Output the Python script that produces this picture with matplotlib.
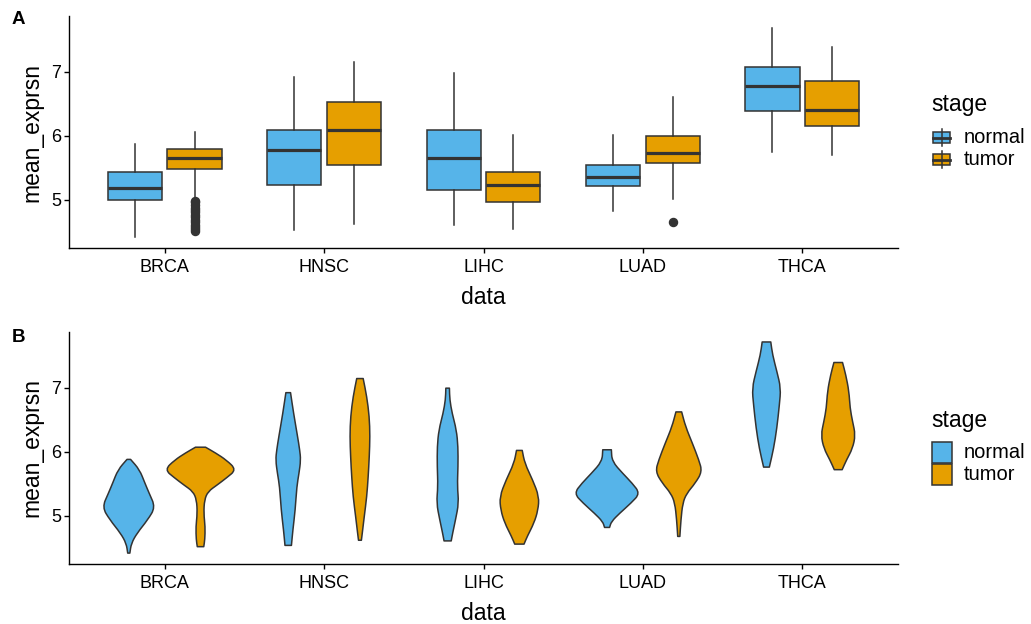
import matplotlib
matplotlib.use("Agg")
import matplotlib.pyplot as plt
from matplotlib.patches import Rectangle, PathPatch
from matplotlib.path import Path
from matplotlib.lines import Line2D
import numpy as np

plt.rcParams['font.family'] = ['Liberation Sans', 'DejaVu Sans']

# ---------------- data ----------------
categories = ["BRCA", "HNSC", "LIHC", "LUAD", "THCA"]
stages = ["normal", "tumor"]
stage_colors = {"normal": "#56B4E9", "tumor": "#E69F00"}

# Boxplot statistics (panel A)
normal_whislo = [4.42, 4.53, 4.61, 4.82, 5.75]
normal_q1 = [5.00, 5.24, 5.16, 5.22, 6.39]
normal_med = [5.18, 5.78, 5.66, 5.36, 6.78]
normal_q3 = [5.43, 6.09, 6.09, 5.55, 7.08]
normal_whishi = [5.87, 6.92, 6.98, 6.02, 7.69]
normal_outliers = [[], [], [], [], []]

tumor_whislo = [5.02, 4.62, 4.54, 5.01, 5.70]
tumor_q1 = [5.48, 5.55, 4.97, 5.57, 6.16]
tumor_med = [5.66, 6.09, 5.23, 5.73, 6.41]
tumor_q3 = [5.79, 6.53, 5.44, 5.99, 6.85]
tumor_whishi = [6.06, 7.15, 6.02, 6.61, 7.39]
tumor_outliers = [[4.99, 4.96, 4.92, 4.88, 4.85, 4.81, 4.77, 4.73, 4.68, 4.65,
                   4.61, 4.58, 4.55, 4.52], [], [], [4.66], []]

# Violin density profiles (panel B): levels and relative widths (1 = widest)
normal_violin_levels = [
    [4.42, 4.57, 4.73, 4.94, 5.135, 5.35, 5.51, 5.72, 5.88],
    [4.54, 4.78, 5.09, 5.46, 5.66, 5.87, 6.03, 6.24, 6.60, 6.92],
    [4.61, 4.73, 4.94, 5.20, 5.46, 5.77, 6.08, 6.34, 6.60, 6.81, 6.99],
    [4.82, 4.91, 5.04, 5.20, 5.35, 5.51, 5.66, 5.85, 6.03],
    [5.76, 6.05, 6.37, 6.73, 6.99, 7.25, 7.51, 7.71],
]
normal_violin_widths = [
    [0.03, 0.07, 0.23, 0.53, 0.74, 0.57, 0.45, 0.30, 0.05],
    [0.09, 0.13, 0.195, 0.24, 0.30, 0.35, 0.32, 0.26, 0.15, 0.065],
    [0.10, 0.14, 0.22, 0.31, 0.27, 0.29, 0.29, 0.245, 0.125, 0.06, 0.05],
    [0.07, 0.12, 0.35, 0.67, 0.92, 0.70, 0.44, 0.14, 0.12],
    [0.08, 0.20, 0.29, 0.36, 0.40, 0.29, 0.17, 0.12],
]
tumor_violin_levels = [
    [4.52, 4.63, 4.83, 5.04, 5.25, 5.38, 5.48, 5.59, 5.72, 5.87, 5.98, 6.07],
    [4.62, 4.73, 4.99, 5.30, 5.61, 5.92, 6.24, 6.55, 6.86, 7.14],
    [4.56, 4.68, 4.89, 5.09, 5.30, 5.56, 5.82, 6.02],
    [4.68, 4.94, 5.20, 5.35, 5.51, 5.69, 5.87, 6.13, 6.39, 6.62],
    [5.72, 5.87, 6.05, 6.26, 6.47, 6.68, 6.94, 7.20, 7.39],
]
tumor_violin_widths = [
    [0.09, 0.12, 0.13, 0.09, 0.11, 0.21, 0.46, 0.72, 1.00, 0.72, 0.42, 0.14],
    [0.04, 0.065, 0.12, 0.19, 0.23, 0.26, 0.28, 0.26, 0.19, 0.09],
    [0.13, 0.22, 0.41, 0.52, 0.55, 0.37, 0.15, 0.08],
    [0.03, 0.06, 0.11, 0.22, 0.46, 0.65, 0.56, 0.38, 0.19, 0.08],
    [0.11, 0.23, 0.40, 0.48, 0.40, 0.33, 0.30, 0.21, 0.12],
]

y_ticks = [5, 6, 7]
y_limits = (4.25, 7.87)

# ---------------- figure ----------------
W, H = 1031, 624
fig = plt.figure(figsize=(W / 100, H / 100), dpi=100)


def frac_rect(l, t, r, b):
    return [l / W, 1 - b / H, (r - l) / W, (b - t) / H]


axA = fig.add_axes(frac_rect(69, 16, 898, 248))
axB = fig.add_axes(frac_rect(69, 331.7, 898, 564))

DARK = "#333333"
x = np.arange(1, len(categories) + 1)


def style_axis(ax):
    ax.set_xlim(0.4, len(categories) + 0.6)
    ax.set_ylim(*y_limits)
    ax.set_yticks(y_ticks)
    ax.set_xticks(x)
    ax.set_xticklabels(categories)
    for s in ["top", "right"]:
        ax.spines[s].set_visible(False)
    for s in ["left", "bottom"]:
        ax.spines[s].set_linewidth(1.0)
        ax.spines[s].set_color("black")
    ax.tick_params(axis="both", length=3.6, width=1.0, color="black",
                   labelsize=13, labelcolor="black")
    ax.tick_params(axis="x", pad=4)
    ax.tick_params(axis="y", pad=2)
    ax.set_xlabel("data", fontsize=16.5)
    ax.set_ylabel("mean_exprsn", fontsize=16.5)
    ax.yaxis.set_label_coords(-0.0314, 0.5)
    ax.xaxis.set_label_coords(0.5, -0.165)


# ---------- Panel A: boxplots ----------
box_data = {
    "normal": (normal_whislo, normal_q1, normal_med, normal_q3, normal_whishi, normal_outliers),
    "tumor": (tumor_whislo, tumor_q1, tumor_med, tumor_q3, tumor_whishi, tumor_outliers),
}
box_offset = {"normal": -0.1875, "tumor": 0.1875}
for st in stages:
    wl, q1, md, q3, wh, fl = box_data[st]
    stats = [dict(whislo=wl[i], q1=q1[i], med=md[i], q3=q3[i], whishi=wh[i], fliers=fl[i])
             for i in range(len(categories))]
    axA.bxp(stats, positions=x + box_offset[st], widths=0.34, patch_artist=True,
            showcaps=False, manage_ticks=False,
            boxprops=dict(facecolor=stage_colors[st], edgecolor=DARK, linewidth=1.1),
            medianprops=dict(color=DARK, linewidth=2.3, solid_capstyle="butt"),
            whiskerprops=dict(color=DARK, linewidth=1.1),
            flierprops=dict(marker="o", markerfacecolor=DARK, markeredgecolor=DARK,
                            markersize=5.8))
style_axis(axA)


# ---------- Panel B: violins ----------
def violin_path(cx, levels, halfw):
    """Outline of a violin, drawn with quadratic curves through the read profile."""
    pr = [(cx + w, y) for y, w in zip(levels, halfw)]          # right side, bottom -> top
    pl = [(cx - w, y) for y, w in zip(levels, halfw)][::-1]    # left side, top -> bottom
    verts, codes = [], []

    def side(pts):
        n = len(pts)
        verts.append(pts[0]); codes.append(Path.LINETO)
        mid = ((pts[0][0] + pts[1][0]) / 2, (pts[0][1] + pts[1][1]) / 2)
        verts.append(mid); codes.append(Path.LINETO)
        for k in range(1, n - 1):
            nxt = ((pts[k][0] + pts[k + 1][0]) / 2, (pts[k][1] + pts[k + 1][1]) / 2)
            verts.extend([pts[k], nxt]); codes.extend([Path.CURVE3, Path.CURVE3])
        verts.append(pts[-1]); codes.append(Path.LINETO)

    side(pr)
    side(pl)
    codes[0] = Path.MOVETO
    verts.append(verts[0]); codes.append(Path.CLOSEPOLY)
    return Path(verts, codes)


violin_data = {
    "normal": (normal_violin_levels, normal_violin_widths),
    "tumor": (tumor_violin_levels, tumor_violin_widths),
}
viol_offset = {"normal": -0.225, "tumor": 0.225}
half_max = 0.225
for st in stages:
    levs, wids = violin_data[st]
    for i in range(len(categories)):
        cx = x[i] + viol_offset[st]
        path = violin_path(cx, levs[i], [w * half_max for w in wids[i]])
        axB.add_patch(PathPatch(path, facecolor=stage_colors[st], edgecolor=DARK,
                                linewidth=1.1, joinstyle="round"))
style_axis(axB)

# ---------- panel tags ----------
fig.text(12 / W, 1 - 20 / H, "A", fontsize=13.5, fontweight="bold", va="center", ha="left")
fig.text(12 / W, 1 - 338 / H, "B", fontsize=13.5, fontweight="bold", va="center", ha="left")


# ---------- legends ----------
def fx(px):
    return px / W


def fy(py):
    return 1 - py / H


# Legend A (boxplot keys)
fig.text(fx(931), fy(105), "stage", fontsize=16.5, va="center", ha="left")
key_centers_A = {"normal": 137.5, "tumor": 159.5}
for st in stages:
    cy = key_centers_A[st]
    kh = 22
    fig.add_artist(Line2D([fx(941.5), fx(941.5)], [fy(cy - kh * 0.4), fy(cy + kh * 0.4)],
                          color=DARK, linewidth=1.1))
    fig.add_artist(Rectangle((fx(933), fy(cy + kh * 0.25)), fx(950) - fx(933),
                             fy(cy - kh * 0.25) - fy(cy + kh * 0.25),
                             facecolor=stage_colors[st], edgecolor=DARK, linewidth=1.1))
    fig.add_artist(Line2D([fx(933), fx(950)], [fy(cy), fy(cy)], color=DARK, linewidth=2.0))
    fig.text(fx(964), fy(cy), st, fontsize=14.5, va="center", ha="left")

# Legend B (violin keys)
fig.text(fx(931), fy(421), "stage", fontsize=16.5, va="center", ha="left")
key_centers_B = {"normal": 452, "tumor": 474}
for st in stages:
    cy = key_centers_B[st]
    fig.add_artist(Rectangle((fx(932), fy(cy + 10.5)), fx(952) - fx(932), fy(cy - 10.5) - fy(cy + 10.5),
                             facecolor=stage_colors[st], edgecolor=DARK, linewidth=1.1))
    fig.text(fx(964), fy(cy), st, fontsize=14.5, va="center", ha="left")

fig.savefig("out.png", dpi=100)
